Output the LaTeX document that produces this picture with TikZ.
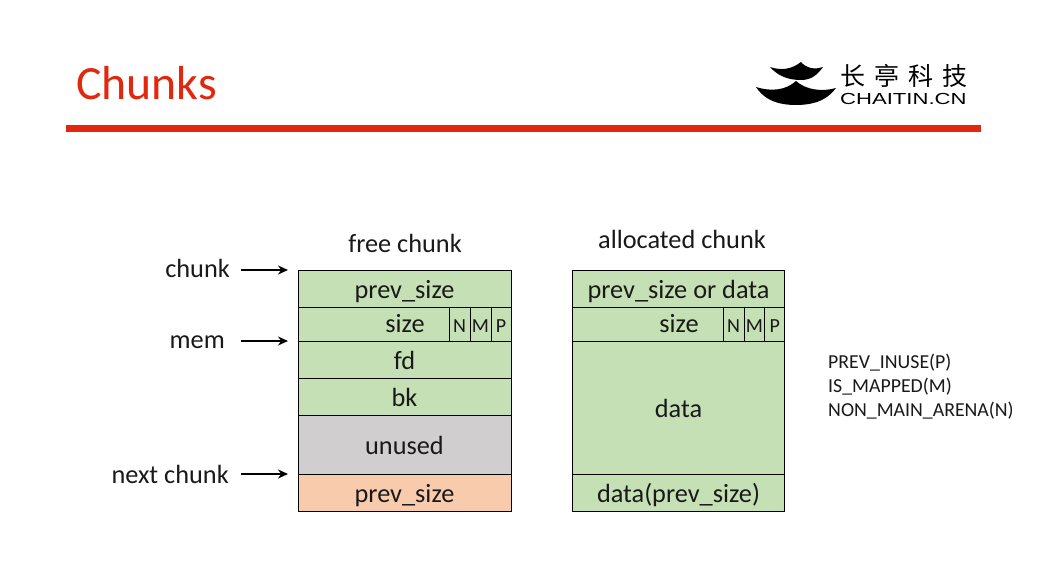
\documentclass[tikz,border=0pt]{standalone}
\usepackage{fontspec}
\usepackage{graphicx}
\setmainfont{Carlito}
\newfontfamily\cjk{Noto Sans CJK SC}
\newfontfamily\logofont{Liberation Sans}
\definecolor{cellgreen}{HTML}{C5E0B4}
\definecolor{cellgray}{HTML}{D0CECE}
\definecolor{cellorange}{HTML}{F8CBAD}
\definecolor{brandred}{HTML}{E1280F}
\newcommand{\pxfont}[1]{\fontsize{#1}{#1}\selectfont}
\usetikzlibrary{arrows.meta}
\tikzset{
  cell/.style={draw=black,line width=0.9pt,fill=cellgreen,inner sep=0pt,outer sep=0pt,font=\pxfont{26.3},text=black!90,text height=25pt,text depth=5pt},
  flag/.style={cell,font=\pxfont{20},text height=17pt,text depth=0pt,minimum width=21pt,minimum height=34pt},
  wide/.style={minimum width=213pt},
  widea/.style={minimum width=212.8pt},
  sizecell/.style={cell,minimum width=151pt,minimum height=34pt,text height=21pt,text depth=5pt},
  lbl/.style={font=\pxfont{26.3},text=black!90,inner sep=0pt},
  pointer/.style={-{Stealth[length=10pt,width=9pt]},line width=1.5pt,black}
}
\begin{document}
\begin{tikzpicture}[x=1pt,y=-1pt]
\useasboundingbox (0,0) rectangle (1048,588);
\fill[white] (0,0) rectangle (1048,588);
% header
\node[anchor=west,inner sep=0pt,font=\pxfont{47.7},text=brandred] (title) at (76,83) {Chunks};
\fill[brandred] (66,125) rectangle (981,132);
% logo
\fill[black] (770,67) .. controls (782,71) and (792,69) .. (801,62)
  .. controls (806,68) and (814,70) .. (823,67)
  .. controls (818,74) and (812,80) .. (801,80)
  .. controls (788,80) and (778,76) .. (770,67) -- cycle;
\fill[black] (756,87) .. controls (772,92) and (786,90) .. (796,81)
  .. controls (806,90) and (822,92) .. (836,88)
  .. controls (830,96) and (820,105) .. (796,105)
  .. controls (772,105) and (762,96) .. (756,87) -- cycle;
\node[anchor=west,inner sep=0pt,font=\cjk\pxfont{25}] (logocn) at (840,76) {长\hspace{9pt}亭\hspace{9pt}科\hspace{9pt}技};
\node[anchor=west,inner sep=0pt,font=\logofont\pxfont{16}] (logoen) at (840,99) {\scalebox{1.38}[1]{CHAITIN.CN}};
% headings
\node[lbl] (freehead) at (405,243) {free chunk};
\node[lbl] (allochead) at (682,239) {allocated chunk};
% free chunk
\node[cell,wide,minimum height=37pt] (f1) at (404.5,288.5) {prev\_size};
\node[sizecell] (f2) at (373.5,324) {\hspace{63pt}size};
\node[flag] (fn) at (459.5,324) {N};
\node[flag] (fm) at (480.5,324) {M};
\node[flag,minimum width=20pt] (fp) at (501,324) {P};
\node[cell,wide,minimum height=37pt] (f3) at (404.5,359.5) {fd};
\node[cell,wide,minimum height=37pt] (f4) at (404.5,396.5) {bk};
\node[cell,wide,minimum height=59pt,fill=cellgray] (f5) at (404.5,444.5) {unused};
\node[cell,wide,minimum height=37pt,fill=cellorange] (f6) at (404.5,492.5) {prev\_size};
% allocated chunk
\node[cell,widea,minimum height=37pt] (a1) at (678.5,288.5) {prev\_size or data};
\node[sizecell] (a2) at (647.5,324) {\hspace{63pt}size};
\node[flag] (an) at (733.5,324) {N};
\node[flag] (am) at (754.5,324) {M};
\node[flag,minimum width=20pt] (ap) at (774.9,324) {P};
\node[cell,widea,minimum height=133pt] (a3) at (678.5,407.5) {data};
\node[cell,widea,minimum height=37pt] (a4) at (678.5,492.5) {data(prev\_size)};
% pointers
\node[lbl,anchor=base east] (lchunk) at (230,277) {chunk};
\node[lbl,anchor=base east] (lmem) at (225,348) {mem};
\node[lbl,anchor=base east] (lnext) at (229,483) {next chunk};
\coordinate (s1) at (241,270);
\coordinate (e1) at (288,270);
\coordinate (s2) at (241,341);
\coordinate (e2) at (288,341);
\coordinate (s3) at (241,474);
\coordinate (e3) at (288,474);
\draw[pointer] (s1) -- (e1);
\draw[pointer] (s2) -- (e2);
\draw[pointer] (s3) -- (e3);
% legend
\node[anchor=north west,inner sep=0pt,align=left,font=\fontsize{19.8}{24}\selectfont,text=black!90] (legend) at (828,354)
  {PREV\_INUSE(P)\\IS\_MAPPED(M)\\NON\_MAIN\_ARENA(N)};
\end{tikzpicture}
\end{document}
